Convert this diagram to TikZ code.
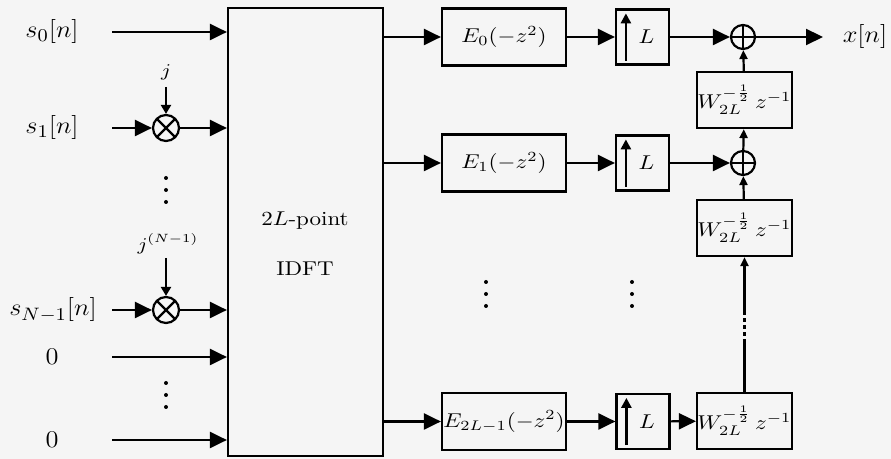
\documentclass[tikz,border=0pt]{standalone}
\usepackage{graphicx}
\usetikzlibrary{arrows.meta,calc}
\newcommand\hs[1]{\scalebox{1.15}[1]{#1}}
\newcommand\hl[1]{\scalebox{1.1}[1]{#1}}
\begin{document}
\begin{tikzpicture}[x=0.5pt,y=-0.5pt,
  line width=1.1pt,
  big/.style={-{Triangle[length=8.5pt,width=8pt]}},
  small/.style={-{Triangle[length=4.5pt,width=4pt]}},
  blk/.style={draw,rectangle,inner sep=0pt,font=\fontsize{10}{12}\selectfont},
  ebox/.style={blk,minimum width=62pt,minimum height=28.5pt},
  ubox/.style={blk,minimum width=26.5pt,minimum height=27.5pt},
  wbox/.style={blk,minimum width=47.5pt,minimum height=28pt},
  mult/.style={draw,circle,minimum size=13pt,inner sep=0pt,
    path picture={\draw (path picture bounding box.north west) -- (path picture bounding box.south east)
      (path picture bounding box.north east) -- (path picture bounding box.south west);}},
  addr/.style={draw,circle,minimum size=12pt,inner sep=0pt,
    path picture={\draw (path picture bounding box.north) -- (path picture bounding box.south)
      (path picture bounding box.east) -- (path picture bounding box.west);}},
  lbl/.style={font=\fontsize{13}{15}\selectfont,inner sep=0pt},
  jl/.style={font=\small,inner sep=0pt},
  mid/.style={font=\fontsize{10}{12}\selectfont},
  dot/.style={fill,circle,inner sep=0pt,minimum size=2pt}
]
\useasboundingbox (0,0) rectangle (891,459);
\fill[white!96!black] (0,0) rectangle (891,459);

% IDFT block
\node[blk,minimum width=77.5pt,minimum height=224pt] (idft) at (305.5,232) {};
\node[mid] (t1) at (305,221) {\hs{$2L$-point}};
\node[mid] (t2) at (305,269) {\hs{IDFT}};

% input labels
\node[lbl] (l0) at (52,32) {\hl{$s_0[n]$}};
\node[lbl] (l1) at (52,128) {\hl{$s_1[n]$}};
\node[lbl] (l2) at (53,310) {\hl{$s_{N-1}[n]$}};
\node[lbl] (l3) at (52,357) {\hl{$0$}};
\node[lbl] (l4) at (52,440) {\hl{$0$}};
\coordinate (i0) at (112,32);
\coordinate (i1) at (112,128);
\coordinate (i2) at (112,310);
\coordinate (i3) at (112,357);
\coordinate (i4) at (112,440);

% multipliers
\node[mult] (m1) at (166,128) {};
\node[mult] (m2) at (166,310) {};
\node[jl] (j1) at (166,72) {\hs{$j$}};
\node[jl] (j2) at (168,244) {\hs{$j^{(N-1)}$}};
\coordinate (jt1) at (166,87);
\coordinate (jt2) at (166,258);

\draw[big] (i0) -- (idft.west |- i0);
\draw[big] (i1) -- (m1);
\draw[big] (m1) -- (idft.west |- m1);
\draw[big] (i2) -- (m2);
\draw[big] (m2) -- (idft.west |- m2);
\draw[big] (i3) -- (idft.west |- i3);
\draw[big] (i4) -- (idft.west |- i4);
\draw[-{Triangle[length=4.5pt,width=5pt]}] (jt1) -- (m1);
\draw[-{Triangle[length=4.5pt,width=5pt]}] (jt2) -- (m2);

% E boxes
\node[ebox] (e0) at (504,37) {\hs{$E_0(-z^2)$}};
\node[ebox] (e1) at (504,163) {\hs{$E_1(-z^2)$}};
\node[ebox] (e2) at (504,421.5) {\hs{$E_{2L-1}(-z^2)$}};

% upsamplers
\node[ubox] (u0) at (642.5,37) {\hs{\ $L$}};
\node[ubox] (u1) at (642.5,163) {\hs{\ $L$}};
\node[ubox] (u2) at (643,421.5) {\hs{\ $L$}};
\foreach \u in {u0,u1,u2}{
  \draw[line width=1.4pt,-{Triangle[length=5pt,width=5pt]}] ($(\u.south west)+(11,-5)$) -- ($(\u.north west)+(11,5)$);
}

% adders
\node[addr] (a0) at (743,37) {};
\node[addr] (a1) at (743,163) {};
\coordinate (out) at (823,37);
\node[lbl] (xo) at (865,37) {\hl{$x[n]$}};

% W boxes
\node[wbox] (w0) at (744.5,100) {\hs{$W_{2L}^{-\frac{1}{2}}\,z^{-1}$}};
\node[wbox] (w1) at (744.5,228) {\hs{$W_{2L}^{-\frac{1}{2}}\,z^{-1}$}};
\node[wbox] (w2) at (744.5,421) {\hs{$W_{2L}^{-\frac{1}{2}}\,z^{-1}$}};
\coordinate (d1) at (744.5,343);
\coordinate (d2) at (744.5,313);

% connections
\draw[big] (idft.east |- e0) -- (e0);
\draw[big] (idft.east |- e1) -- (e1);
\draw[big] (idft.east |- e2) -- (e2);
\draw[big] (e0) -- (u0);
\draw[big] (e1) -- (u1);
\draw[big] (e2) -- (u2);
\draw[big] (u0) -- (a0);
\draw[big] (u1) -- (a1);
\draw[big] (u2) -- (w2);
\draw[big] (a0) -- (out);
\draw[small] (w0) -- (a0);
\draw[small] (a1) -- (w0);
\draw[small] (w1) -- (a1);
\draw (w2.north) -- (d1);
\draw[dash pattern=on 2pt off 1.5pt] (d1) -- (d2);
\draw[small] (d2) -- (w1.south);

% dots
\foreach \x/\y in {166/190,166/395,486/294,632/294}{
  \node[dot] at (\x,\y-12) {};
  \node[dot] at (\x,\y) {};
  \node[dot] at (\x,\y+12) {};
}
\end{tikzpicture}
\end{document}
